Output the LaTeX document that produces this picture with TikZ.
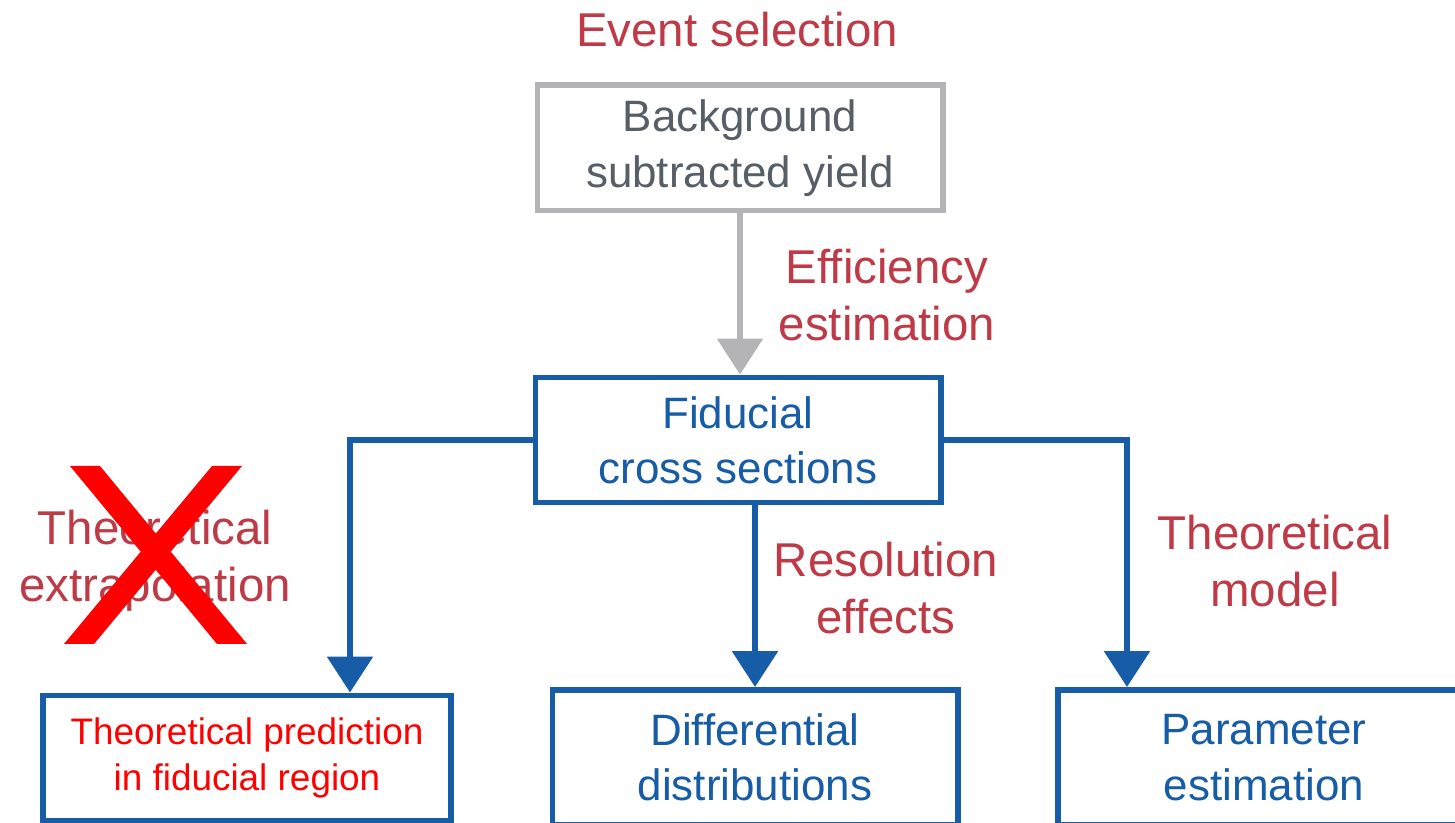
\documentclass[tikz,border=0pt]{standalone}
\usepackage{fontspec}
\setmainfont{Liberation Sans}
\usepackage{tikz}
\usetikzlibrary{arrows.meta, positioning, calc}
\definecolor{boxblue}{RGB}{22,92,166}
\definecolor{labelred}{RGB}{190,58,70}
\definecolor{edgegray}{RGB}{180,180,182}
\definecolor{textgray}{RGB}{88,94,102}

\begin{document}
\begin{tikzpicture}[
  box/.style={draw=boxblue, line width=3.4pt, rectangle, fill=white, minimum width=8.1cm, minimum height=2.5cm, align=center, text=boxblue, font=\fontsize{25}{31.5}\selectfont},
  lbl/.style={align=center, text=labelred, font=\fontsize{27}{32.5}\selectfont},
  flow/.style={draw=boxblue, line width=3.4pt, -{Triangle[width=0.9cm, length=0.72cm]}}
]
\useasboundingbox (0,0) rectangle (29.1,16.46);

% Yield box
\node[lbl] (evsel) at (14.74, 15.86) {Event selection};
\node[box, draw=edgegray, text=textgray] (yield) at (14.8, 13.5) {Background\\subtracted yield};

% Fiducial box
\node[box] (fid) at (14.76, 7.66) {Fiducial\\cross sections};

% Bottom boxes
\node[box, minimum width=8.16cm, text=red, font=\fontsize{21}{26}\selectfont] (pred) at (4.94, 1.3) {Theoretical prediction\\in fiducial region};
\node[box, minimum height=2.7cm] (diff) at (15.1, 1.31) {Differential\\distributions};
\node[box, minimum width=8.24cm, minimum height=2.7cm] (param) at (25.28, 1.31) {Parameter\\estimation};

% Arrows
\draw[flow, draw=edgegray] (yield.south) -- (yield.south |- fid.north);
\draw[flow] (fid.west) -| ([xshift=2.06cm]pred.north);
\draw[flow] (fid.south -| diff.north) -- (diff.north);
\draw[flow] (fid.east) -| ([xshift=-2.74cm]param.north);

% Step labels
\node[lbl] (eff) at (17.74, 10.56) {Efficiency\\estimation};
\node[lbl] (extra) at (3.1, 5.24) {Theoretical\\extrapolation};
\node[lbl] (reso) at (17.72, 4.7) {Resolution\\effects};
\node[lbl] (model) at (25.5, 5.24) {Theoretical\\model};

% Cross over the extrapolation
\fill[red] (1.4, 7.14) -- (2.0, 7.14) -- (4.94, 3.58) -- (4.34, 3.58) -- cycle;
\fill[red] (4.24, 7.14) -- (4.84, 7.14) -- (1.88, 3.58) -- (1.28, 3.58) -- cycle;

\end{tikzpicture}
\end{document}
